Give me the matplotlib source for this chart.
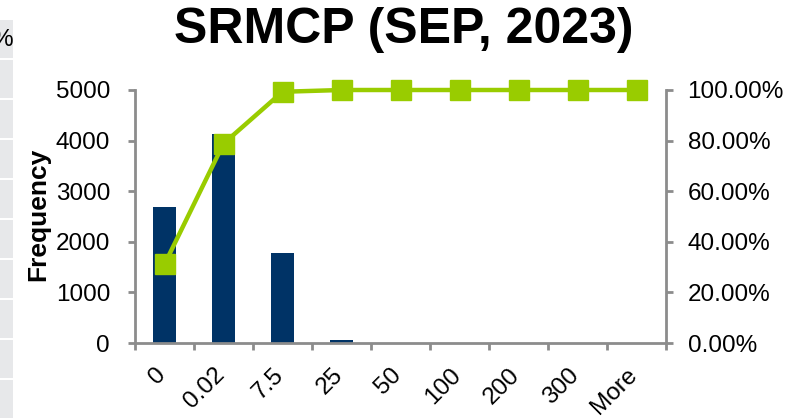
import numpy as np
import matplotlib
matplotlib.use("Agg")
import matplotlib.pyplot as plt
from matplotlib.patches import Rectangle
from matplotlib.ticker import FuncFormatter, FixedLocator
from matplotlib.transforms import ScaledTranslation

# data
bins = ["0", "0.02", "7.5", "25", "50", "100", "200", "300", "More"]
frequency = [2690, 4130, 1785, 60, 0, 0, 0, 0, 0]
cumulative = [31.1, 78.8, 99.3, 100.0, 100.0, 100.0, 100.0, 100.0, 100.0]

plt.rcParams['font.family'] = ['Liberation Sans', 'DejaVu Sans']

W, H = 807, 419
fig = plt.figure(figsize=(W / 100, H / 100), dpi=100)

# bit of spreadsheet showing at the left edge
for k in range(10):
    top = 20 + 40 * k
    fig.patches.append(Rectangle((0, 1 - (top + 38) / H), 13 / W, 38 / H,
                                 transform=fig.transFigure, facecolor="#e7e8ea",
                                 edgecolor="none", zorder=0))
fig.text(13 / W, 1 - 40 / H, "%", ha="right", va="center", fontsize=17.5)

ax = fig.add_axes([135 / W, 1 - 343 / H, 531 / W, 253 / H])
ax2 = ax.twinx()

x = np.arange(len(bins))
ax.bar(x, frequency, width=0.4, color="#003366", zorder=2)
ax.set_xlim(-0.5, len(bins) - 0.5)
ax.set_ylim(0, 5000)
ax.set_yticks(range(0, 5001, 1000))
ax.set_ylabel("Frequency", fontsize=19, fontweight="bold")
ax.yaxis.set_label_coords(-0.16, 0.51)

ax2.plot(x, cumulative, color="#99cc00", lw=3.2, marker="s", markersize=15,
         clip_on=False, zorder=3)
ax2.set_ylim(0, 100)
ax2.set_yticks(range(0, 101, 20))
ax2.yaxis.set_major_formatter(FuncFormatter(lambda v, p: f"{v:.2f}%"))

# ticks at category boundaries, labels at centres
ax.xaxis.set_major_locator(FixedLocator(np.arange(len(bins) + 1) - 0.5))
ax.xaxis.set_major_formatter(FuncFormatter(lambda v, p: ""))
ax.xaxis.set_minor_locator(FixedLocator(x))
ax.set_xticklabels(bins, minor=True)
ax.tick_params(axis="x", which="minor", length=0, labelsize=17.5, pad=15)
shift = ScaledTranslation(-0.10, 0, fig.dpi_scale_trans)
for lab in ax.get_xticklabels(minor=True):
    lab.set_rotation(45)
    lab.set_ha("right")
    lab.set_va("top")
    lab.set_rotation_mode("anchor")
    lab.set_transform(lab.get_transform() + shift)

gray = "#8c8c8c"
for a in (ax, ax2):
    a.spines["top"].set_visible(False)
    for s in ("left", "right", "bottom"):
        a.spines[s].set_color(gray)
        a.spines[s].set_linewidth(2)
    a.tick_params(which="major", color=gray, width=2, length=5, labelsize=17.5)
ax2.spines["left"].set_visible(False)
ax2.spines["bottom"].set_visible(False)
ax.spines["right"].set_visible(False)
ax.tick_params(axis="y", pad=13)
ax2.tick_params(axis="y", pad=10.5)

fig.text(404 / W, 1 - 43 / H, "SRMCP (SEP, 2023)", ha="center", va="baseline",
         fontsize=36, fontweight="bold")

fig.savefig("out.png", dpi=100)
